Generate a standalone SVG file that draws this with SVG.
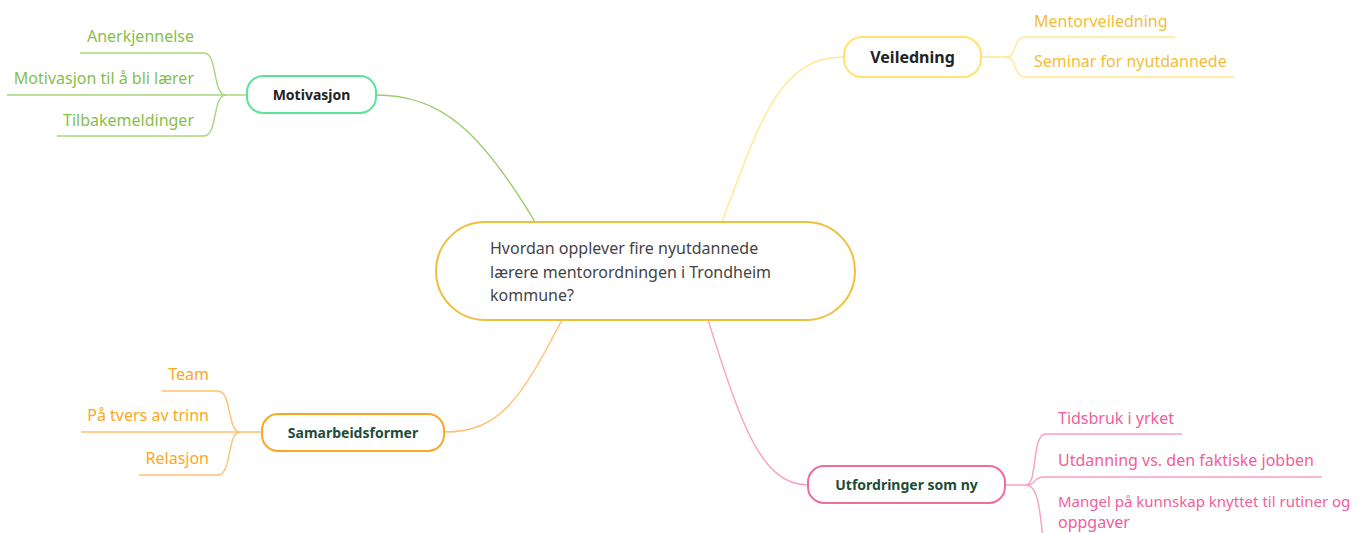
<svg xmlns="http://www.w3.org/2000/svg" width="1366" height="533" viewBox="0 0 1366 533">
<style>
text{font-family:"Noto Sans","Open Sans","DejaVu Sans",sans-serif}
.box{fill:#fff;stroke-width:2}
.lbl{font-size:14px;font-weight:700;text-anchor:middle}
.big{font-size:16px}
.sub{font-size:16px}
.sm{font-size:15px}
.c{fill:none;stroke-width:1.4}
.r{text-anchor:end}
</style>
<rect width="1366" height="533" fill="#fff"/>
<g id="connectors">
  <path class="c" stroke="#9ECB6C" d="M535,222 C480,130 440,95 376,95"/>
  <path class="c" stroke="#FFE98F" d="M722,222 C760,120 780,57 843,57"/>
  <path class="c" stroke="#FFC070" d="M562,320 C520,400 500,432 444,432"/>
  <path class="c" stroke="#F7A1C0" d="M708,320 C740,420 760,485 808,485"/>
  <g stroke="#A8D77A">
    <path class="c" d="M246,95 H7"/>
    <path class="c" d="M226,95 C212,95 218,53 204,53 H80"/>
    <path class="c" d="M226,95 C212,95 218,136 204,136 H57"/>
  </g>
  <g stroke="#FFE98F">
    <path class="c" d="M982,57 H1006 C1018,57 1012,37 1026,37 H1175"/>
    <path class="c" d="M1006,57 C1018,57 1012,77 1026,77 H1234"/>
  </g>
  <g stroke="#FFC070">
    <path class="c" d="M262,432 H81"/>
    <path class="c" d="M240,432 C227,432 232,391 218,391 H162"/>
    <path class="c" d="M240,432 C227,432 232,475 218,475 H139"/>
  </g>
  <g stroke="#F7A1C0">
    <path class="c" d="M1005,485 H1026 C1038,485 1031,434 1046,434 H1182"/>
    <path class="c" d="M1026,485 C1038,485 1031,477 1046,477 H1322"/>
    <path class="c" d="M1026,485 C1038,485 1040,510 1043,540"/>
  </g>
</g>
<g id="central">
  <rect class="box" x="436" y="222" width="419" height="98" rx="49" stroke="#F0C03C"/>
  <text font-size="16" fill="#444"><tspan x="490" y="254">Hvordan opplever fire nyutdannede</tspan><tspan x="490" y="278">lærere mentorordningen i Trondheim</tspan><tspan x="490" y="301">kommune?</tspan></text>
</g>
<g id="motivasjon">
  <rect class="box" x="247" y="76" width="129" height="37" rx="16" stroke="#5BE39A"/>
  <text class="lbl" x="311.5" y="100" fill="#222">Motivasjon</text>
</g>
<g id="motivasjon-children">
  <text class="sub r" x="194" y="42" fill="#86C04C">Anerkjennelse</text>
  <text class="sub r" x="194" y="84" fill="#86C04C">Motivasjon til å bli lærer</text>
  <text class="sub r" x="194" y="126" fill="#86C04C">Tilbakemeldinger</text>
</g>
<g id="veiledning">
  <rect class="box" x="844" y="37" width="137" height="40" rx="18" stroke="#FFE36E"/>
  <text class="lbl big" x="912.5" y="63" fill="#222">Veiledning</text>
</g>
<g id="veiledning-children">
  <text class="sub" x="1034" y="27" fill="#F2BE3A">Mentorveiledning</text>
  <text class="sub" x="1034" y="67" fill="#F2BE3A">Seminar for nyutdannede</text>
</g>
<g id="samarbeidsformer">
  <rect class="box" x="262" y="414" width="182" height="37" rx="16" stroke="#F9A825"/>
  <text class="lbl" x="353" y="438" fill="#1D4D3A">Samarbeidsformer</text>
</g>
<g id="samarbeidsformer-children">
  <text class="sub r" x="209" y="380" fill="#F9A825">Team</text>
  <text class="sub r" x="209" y="421" fill="#F9A825">På tvers av trinn</text>
  <text class="sub r" x="209" y="464" fill="#F9A825">Relasjon</text>
</g>
<g id="utfordringer">
  <rect class="box" x="808" y="466" width="197" height="37" rx="16" stroke="#F06C9B"/>
  <text class="lbl" x="906.5" y="490" fill="#1D4D3A">Utfordringer som ny</text>
</g>
<g id="utfordringer-children">
  <text class="sub" x="1058" y="424" fill="#F0609A">Tidsbruk i yrket</text>
  <text class="sub" x="1058" y="466" fill="#F0609A">Utdanning vs. den faktiske jobben</text>
  <text class="sm" x="1058" y="507" fill="#F0609A">Mangel på kunnskap knyttet til rutiner og</text>
  <text class="sub" x="1058" y="528" fill="#F0609A">oppgaver</text>
</g>
</svg>
